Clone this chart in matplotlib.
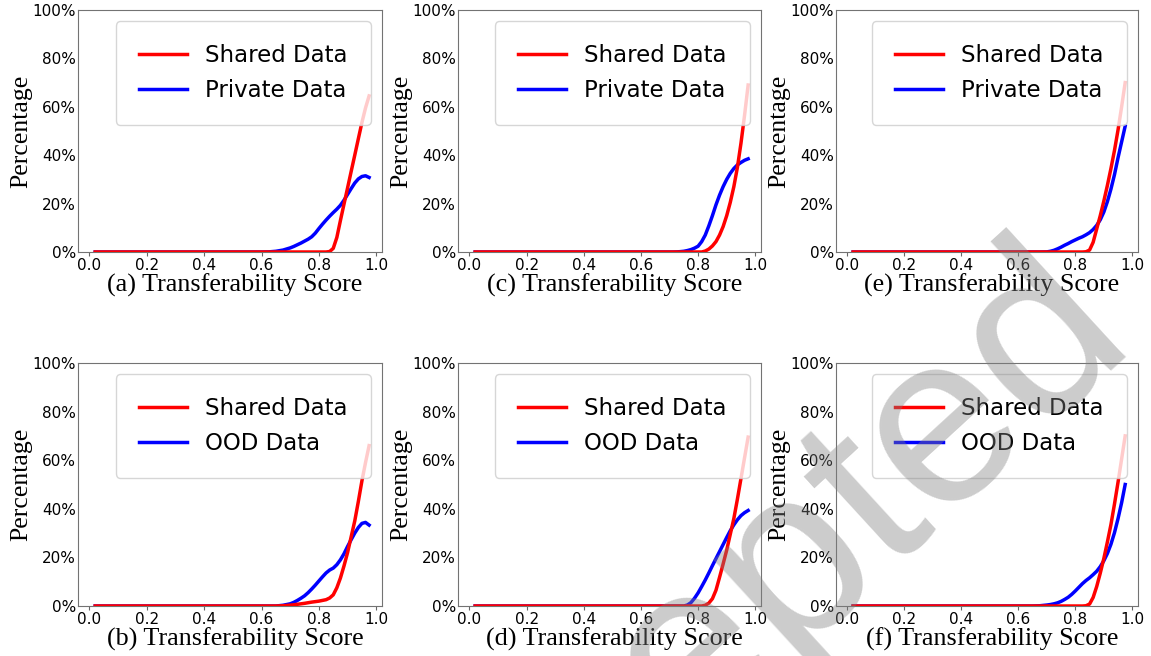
import matplotlib
matplotlib.use("Agg")
import matplotlib.pyplot as plt
from matplotlib.ticker import PercentFormatter

# transferability score grid (first point is the flat start of the curves)
score = [0.02, 0.60, 0.625, 0.65, 0.675, 0.70, 0.7125, 0.725, 0.7375, 0.75,
         0.7625, 0.775, 0.7875, 0.80, 0.8125, 0.825, 0.8375, 0.85, 0.8625,
         0.875, 0.8875, 0.90, 0.9125, 0.925, 0.9375, 0.95, 0.9625, 0.975]

# percentage values
shared_a = [0, 0, 0, 0, 0, 0, 0, 0, 0, 0, 0, 0, 0, 0, 0, 0,
            0.2, 1.5, 6.0, 13.0, 19.8, 26.5, 33.3, 40.0, 46.8, 53.5, 59.5, 64.5]
private_a = [0, 0, 0.05, 0.3, 0.8, 1.7, 2.3, 3.0, 3.7, 4.5, 5.3, 6.3, 7.8, 9.7,
             11.5, 13.2, 14.8, 16.3, 17.7, 19.3, 21.4, 23.8, 26.2, 28.5, 30.2, 31.2, 31.5, 30.8]

shared_b = [0, 0, 0, 0, 0.1, 0.35, 0.5, 0.7, 0.9, 1.1, 1.35, 1.6, 1.8, 2.0,
            2.3, 2.6, 3.3, 4.6, 7.5, 11.5, 16.5, 22.0, 28.5, 35.0, 43.0, 51.5, 59.0, 66.0]
ood_b = [0, 0, 0, 0, 0.3, 0.9, 1.5, 2.3, 3.2, 4.2, 5.5, 7.0, 8.6, 10.3,
         12.0, 13.6, 14.8, 15.6, 17.0, 19.0, 21.5, 24.5, 27.3, 30.0, 32.3, 34.0, 34.4, 33.3]

shared_c = [0, 0, 0, 0, 0, 0, 0, 0, 0, 0, 0, 0, 0, 0, 0,
            0.4, 1.2, 2.5, 4.3, 7.0, 10.5, 15.0, 20.5, 27.0, 35.0, 45.0, 56.5, 69.0]
private_c = [0, 0, 0, 0, 0, 0, 0, 0.05, 0.15, 0.3, 0.6, 1.0, 1.6, 2.4,
             4.3, 7.0, 10.8, 15.0, 19.5, 23.5, 27.0, 30.0, 32.5, 34.5, 36.0, 37.0, 37.9, 38.5]

shared_d = [0, 0, 0, 0, 0, 0, 0, 0, 0, 0, 0, 0, 0, 0, 0,
            0.3, 1.2, 3.0, 6.5, 11.8, 17.3, 23.0, 29.5, 36.0, 44.0, 52.5, 61.0, 69.5]
ood_d = [0, 0, 0, 0, 0, 0, 0, 0, 0, 0, 0.4, 1.4, 3.2, 5.4,
         8.0, 10.7, 13.6, 16.6, 19.5, 22.4, 25.3, 28.2, 31.0, 33.4, 35.5, 37.2, 38.4, 39.3]

shared_e = [0, 0, 0, 0, 0, 0, 0, 0, 0, 0, 0, 0, 0, 0, 0, 0,
            0.1, 0.8, 4.0, 9.5, 15.0, 21.0, 27.5, 34.5, 42.0, 50.5, 60.0, 70.0]
private_e = [0, 0, 0, 0, 0, 0.05, 0.3, 0.7, 1.3, 2.0, 2.8, 3.5, 4.3, 5.0,
             5.7, 6.3, 7.1, 8.0, 9.3, 11.0, 13.3, 16.5, 20.8, 26.0, 32.0, 39.0, 45.5, 52.0]

shared_f = [0, 0, 0, 0, 0, 0, 0, 0, 0, 0, 0, 0, 0, 0, 0, 0,
            0.1, 0.8, 3.5, 8.0, 13.5, 19.5, 26.3, 33.5, 42.0, 51.0, 60.5, 70.0]
ood_f = [0, 0, 0, 0, 0.1, 0.4, 0.6, 0.9, 1.3, 1.9, 2.7, 3.6, 4.8, 6.2,
         7.7, 9.2, 10.5, 11.6, 12.9, 14.3, 16.2, 18.6, 21.6, 25.4, 30.2, 36.0, 42.5, 50.0]

W, H = 1151, 656
fig = plt.figure(figsize=(W / 100, H / 100), dpi=100)


def px_axes(left, top, right, bottom):
    return fig.add_axes([left / W, 1 - bottom / H, (right - left) / W, (bottom - top) / H])


def draw_panel(ax, shared, other, other_label, tag):
    ax.plot(score, shared, color="red", lw=2.5, label="Shared Data", zorder=3)
    ax.plot(score, other, color="blue", lw=2.5, label=other_label, zorder=2)
    ax.set_xlim(-0.04, 1.02)
    ax.set_ylim(0, 100)
    ax.set_xticks([0.0, 0.2, 0.4, 0.6, 0.8, 1.0])
    ax.set_yticks([0, 20, 40, 60, 80, 100])
    ax.yaxis.set_major_formatter(PercentFormatter(xmax=100, decimals=0))
    ax.tick_params(axis="x", length=3, pad=1.5, labelsize=11, color="0.4")
    ax.tick_params(axis="y", length=0, pad=1.5, labelsize=11)
    for s in ax.spines.values():
        s.set_color("0.45")
    ax.set_xlabel(f"({tag}) Transferability Score", family="Liberation Serif",
                  fontsize=18.8, labelpad=0)
    ax.xaxis.label.set_x(0.516)
    ax.set_ylabel("Percentage", family="Liberation Serif", fontsize=18.5, labelpad=0)
    ax.legend(loc="upper right", fontsize=16.5, borderpad=1.0, labelspacing=0.5,
              handlelength=2.1, handletextpad=0.8)


panels = [
    ((78, 10, 382, 252), shared_a, private_a, "Private Data", "a"),
    ((458, 10, 761, 252), shared_c, private_c, "Private Data", "c"),
    ((836, 10, 1138, 252), shared_e, private_e, "Private Data", "e"),
    ((78, 363, 382, 606), shared_b, ood_b, "OOD Data", "b"),
    ((458, 363, 761, 606), shared_d, ood_d, "OOD Data", "d"),
    ((836, 363, 1138, 606), shared_f, ood_f, "OOD Data", "f"),
]
for box, shared, other, other_label, tag in panels:
    draw_panel(px_axes(*box), shared, other, other_label, tag)

# "Accepted" watermark laid over the figure
fig.text(1138 / W, 1 - 345 / H, "Accepted", rotation=42.5, rotation_mode="anchor",
         ha="right", va="baseline", fontsize=175, family="Liberation Sans",
         color="0.5", alpha=0.4, zorder=10)

fig.savefig("out.png", dpi=100)
